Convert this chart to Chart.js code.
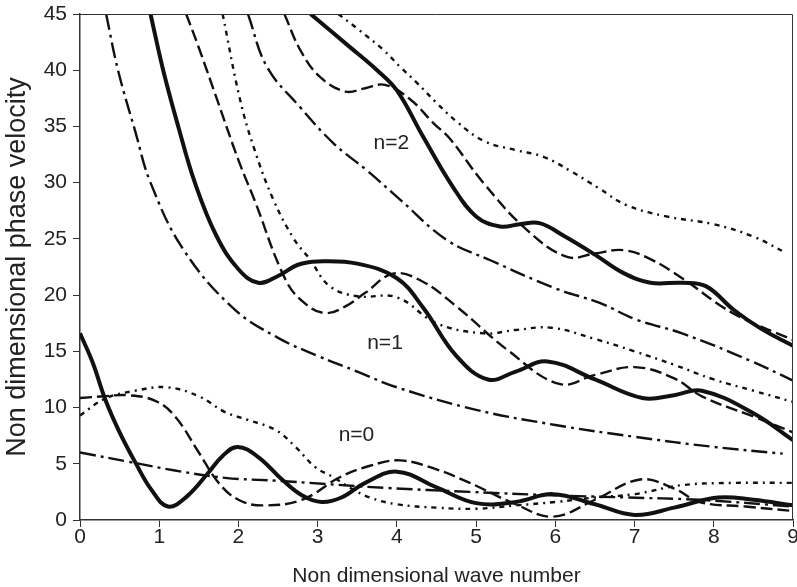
<!DOCTYPE html>
<html>
<head>
<meta charset="utf-8">
<script src="https://cdn.jsdelivr.net/npm/chart.js@4.4.0/dist/chart.umd.min.js"></script>
<style>
  html, body { margin: 0; padding: 0; background: #fff; }
  #wrap { width: 797px; height: 587px; }
</style>
</head>
<body>
<div id="wrap"><canvas id="chart"></canvas></div>
<script>
// curvas: [numero de onda, velocidad de fase]
const n0Solid = [[0,16.6],[0.16,14],[0.32,10.7],[0.5,7.8],[0.7,5.1],[0.9,2.7],[1.11,1.2],[1.35,2.1],[1.62,4.2],[1.8,5.7],[1.99,6.5],[2.25,5.6],[2.55,3.6],[2.8,2.2],[3.05,1.6],[3.3,2.0],[3.6,3.3],[4.0,4.3],[4.5,2.9],[5.0,1.5],[5.5,1.6],[5.97,2.3],[6.5,1.4],[7.0,0.45],[7.5,1.1],[8.05,2.0],[8.5,1.8],[9,1.3]];
const n0Dashed = [[0,10.85],[0.3,11.0],[0.6,11.1],[0.95,10.6],[1.2,9.2],[1.5,6],[1.75,3.3],[2.0,1.8],[2.3,1.3],[2.8,1.8],[3.28,3.8],[3.65,4.8],[4.04,5.3],[4.5,4.5],[4.92,3.3],[5.5,1.4],[5.97,0.3],[6.5,1.8],[7.07,3.6],[7.5,2.8],[7.82,1.6],[8.4,1.2],[9,0.8]];
const n0Dotted = [[0,9.3],[0.32,10.8],[0.7,11.5],[1.1,11.8],[1.5,11],[1.83,9.6],[2.12,8.9],[2.47,8.0],[2.72,6.5],[2.97,4.7],[3.2,3.8],[3.4,2.9],[3.66,2.0],[4.0,1.4],[4.5,1.1],[5.0,1.0],[5.5,1.3],[6.0,1.6],[6.5,2.0],[7.0,2.3],[7.6,3.1],[8.25,3.3],[9,3.3]];
const n0DashDot = [[0,6.0],[0.6,5.2],[1.2,4.4],[1.83,3.75],[2.47,3.5],[3.1,3.2],[3.87,2.85],[4.92,2.5],[5.97,2.2],[6.9,2.0],[7.8,1.8],[9,1.2]];

const n1Solid = [[0.89,45],[1.05,40],[1.24,35],[1.45,30],[1.72,25.3],[2.0,22.3],[2.25,21.1],[2.5,21.7],[2.75,22.7],[3.0,23.0],[3.5,22.8],[4.0,21.5],[4.33,18.9],[4.75,14.6],[5.15,12.5],[5.5,13.2],[5.9,14.1],[6.5,12.5],[7.1,10.85],[7.5,11.1],[7.85,11.5],[8.5,9.5],[9,7.1]];
const n1Dashed = [[1.34,45],[1.5,42],[1.73,37.4],[2.0,32],[2.2,28.5],[2.6,21.3],[2.85,19.2],[3.1,18.4],[3.35,19],[3.6,20.2],[3.95,21.9],[4.3,21.3],[4.75,19],[5.4,15.1],[6.05,12.1],[6.5,12.9],[7.0,13.6],[7.5,12.6],[7.85,11],[8.5,9.2],[9,7.8]];
const n1Dotted = [[1.8,45],[2.02,37.4],[2.2,33],[2.44,28.5],[2.7,25],[2.9,23.2],[3.15,20.8],[3.5,19.9],[4.0,19.8],[4.5,17.5],[5.1,16.6],[5.5,16.9],[5.95,17.1],[6.5,16.1],[7.0,15],[7.5,13.8],[8.0,12.5],[8.5,11.5],[9,10.5]];
const n1DashDot = [[0.33,45],[0.48,40],[0.7,34.5],[0.89,30],[1.31,24],[1.94,18.8],[2.5,16.2],[3.0,14.6],[3.5,13.2],[4.0,11.8],[5.0,9.8],[6.0,8.45],[7.0,7.4],[8.0,6.5],[8.87,5.9]];

const n2Solid = [[2.91,45],[3.4,42.1],[3.75,40],[4.0,38.2],[4.33,34.1],[4.7,29.7],[5.0,27],[5.3,26.1],[5.55,26.3],[5.8,26.4],[6.1,25.3],[6.5,23.6],[6.85,22],[7.2,21.1],[7.6,21.1],[7.9,20.8],[8.25,18.7],[8.6,17],[9.0,15.5]];
const n2Dashed = [[2.58,45],[2.78,41.8],[3.03,39.4],[3.35,38.1],[3.6,38.4],[3.85,38.7],[4.17,37.4],[4.46,35.3],[4.67,33.9],[5.09,30],[5.64,25.8],[6.15,23.4],[6.5,23.7],[6.86,24],[7.2,23.2],[7.6,21.5],[8.24,18.4],[9.0,16]];
const n2Dotted = [[3.26,45],[3.5,43.7],[3.83,41.8],[4.04,40.3],[4.25,38.9],[4.5,37.1],[4.76,35.4],[5.1,33.7],[5.5,32.9],[5.85,32.3],[6.2,31],[6.55,29.5],[6.9,28],[7.4,27],[8.0,26.3],[8.5,25.2],[8.9,23.8]];
const n2DashDot = [[2.12,45],[2.36,40.3],[2.78,36.7],[3.2,33.5],[3.62,31.1],[4.04,28.5],[4.63,24.9],[5.18,23.1],[6.0,20.6],[6.56,19.3],[7.03,17.8],[7.6,16.6],[8.45,14.2],[9.0,12.4]];

const xTicks = [0, 1, 2, 3, 4, 5, 6, 7, 8, 9];
const yTicks = [0, 5, 10, 15, 20, 25, 30, 35, 40, 45];
const modeLabels = ['n=0', 'n=1', 'n=2'];

// estilos de linea
const ink = '#111';
const estilos = {
    solid:   { borderWidth: 4, borderDash: [] },
    dashed:  { borderWidth: 2.4, borderDash: [12, 5] },
    dotted:  { borderWidth: 2.4, borderDash: [5, 5, 2, 5] },
    dashDot: { borderWidth: 2.4, borderDash: [16, 5, 3, 5] }
};

function serie(puntos, estilo) {
    return {
        data: puntos.map(p => ({ x: p[0], y: p[1] })),
        showLine: true,
        pointRadius: 0,
        borderColor: ink,
        borderWidth: estilos[estilo].borderWidth,
        borderDash: estilos[estilo].borderDash,
        tension: 0.4,
        fill: false
    };
}

// posicion de las etiquetas n=... en unidades de los ejes
const labelPos = [[3.49, 7.5], [3.85, 15.75], [3.93, 33.5]];

const etiquetas = {
    id: 'etiquetas',
    afterDatasetsDraw(chart) {
        const { ctx, scales: { x, y }, chartArea } = chart;
        ctx.save();
        // marco superior y derecho
        ctx.strokeStyle = '#333';
        ctx.lineWidth = 1;
        ctx.beginPath();
        ctx.moveTo(chartArea.left, chartArea.top + 0.5);
        ctx.lineTo(chartArea.right - 0.5, chartArea.top + 0.5);
        ctx.lineTo(chartArea.right - 0.5, chartArea.bottom);
        ctx.stroke();
        ctx.fillStyle = '#222';
        ctx.font = '21px "Liberation Sans", Arial, sans-serif';
        ctx.textAlign = 'center';
        ctx.textBaseline = 'middle';
        modeLabels.forEach((t, i) => {
            ctx.fillText(t, x.getPixelForValue(labelPos[i][0]), y.getPixelForValue(labelPos[i][1]));
        });
        ctx.restore();
    }
};

const fuente = '"Liberation Sans", Arial, sans-serif';

const chart = new Chart(document.getElementById('chart').getContext('2d'), {
    type: 'scatter',
    data: {
        datasets: [
            serie(n0Solid, 'solid'), serie(n0Dashed, 'dashed'), serie(n0Dotted, 'dotted'), serie(n0DashDot, 'dashDot'),
            serie(n1Solid, 'solid'), serie(n1Dashed, 'dashed'), serie(n1Dotted, 'dotted'), serie(n1DashDot, 'dashDot'),
            serie(n2Solid, 'solid'), serie(n2Dashed, 'dashed'), serie(n2Dotted, 'dotted'), serie(n2DashDot, 'dashDot')
        ]
    },
    options: {
        responsive: true,
        maintainAspectRatio: false,
        animation: false,
        layout: { padding: { top: 14, right: 4, left: 0, bottom: 0 } },
        plugins: { legend: { display: false }, tooltip: { enabled: false } },
        scales: {
            x: {
                type: 'linear',
                min: 0, max: 9,
                afterBuildTicks: s => { s.ticks = xTicks.map(v => ({ value: v })); },
                afterFit: s => { s.height = 67; s.paddingLeft = 0; s.paddingRight = 0; },
                ticks: { color: '#222', font: { family: fuente, size: 21, lineHeight: 1 }, padding: 0, maxRotation: 0 },
                grid: { drawOnChartArea: false, tickLength: 7, color: '#333', lineWidth: 1 },
                border: { color: '#333', width: 1.5 },
                title: {
                    display: true,
                    text: 'Non dimensional wave number',
                    color: '#222',
                    font: { family: fuente, size: 21, lineHeight: 1 },
                    padding: 0
                }
            },
            y: {
                type: 'linear',
                min: 0, max: 45,
                afterBuildTicks: s => { s.ticks = yTicks.map(v => ({ value: v })); },
                afterFit: s => { s.width = 80; s.paddingTop = 0; s.paddingBottom = 0; },
                ticks: { color: '#222', font: { family: fuente, size: 21 }, padding: 6 },
                grid: { drawOnChartArea: false, tickLength: 7, color: '#333', lineWidth: 1 },
                border: { color: '#333', width: 1.5 },
                title: {
                    display: true,
                    text: 'Non dimensional phase velocity',
                    color: '#222',
                    font: { family: fuente, size: 27, lineHeight: 1.2 },
                    padding: { top: 1, bottom: 0 }
                }
            }
        }
    },
    plugins: [etiquetas]
});
</script>
</body>
</html>
